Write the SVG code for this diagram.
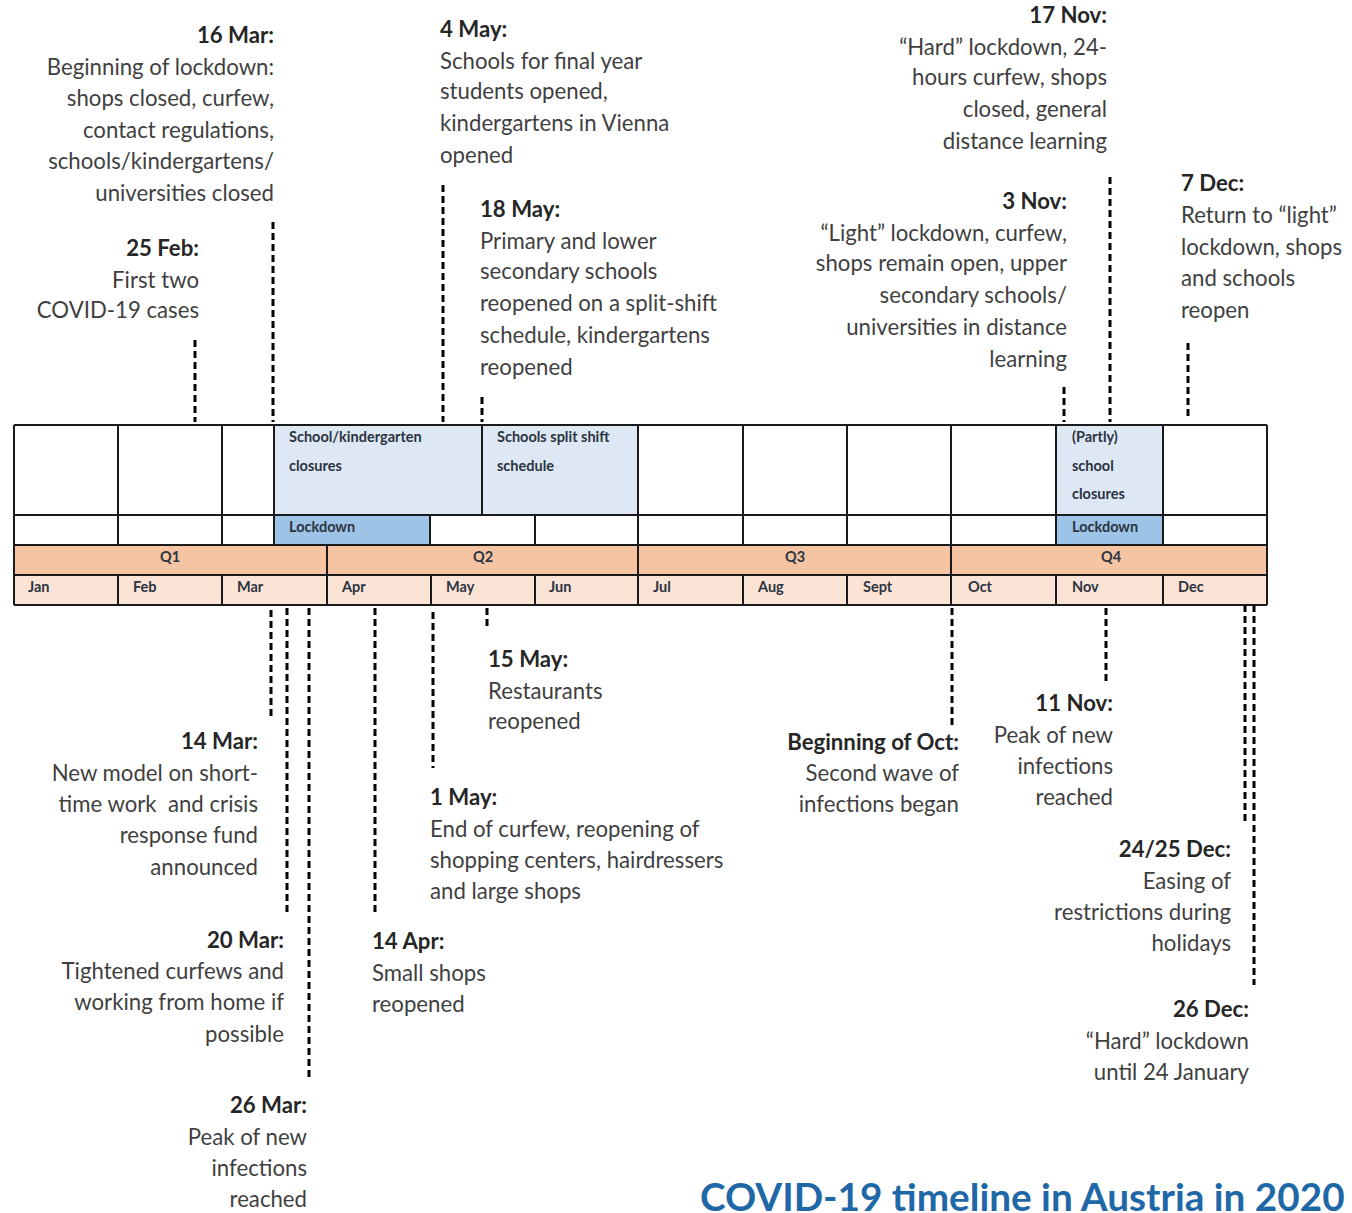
<svg xmlns="http://www.w3.org/2000/svg" width="1352" height="1213" viewBox="0 0 1352 1213">
<style>
.t{font-family:Lato,"Liberation Sans",sans-serif;font-size:22.2px;fill:#3f3f3f}
.h{font-family:Lato,"Liberation Sans",sans-serif;font-size:22.2px;font-weight:bold;fill:#262626}
.r{text-anchor:end}
.c{font-family:Lato,"Liberation Sans",sans-serif;font-size:14.5px;font-weight:bold;fill:#2b3440}
.m{text-anchor:middle}
.g{stroke:#1a1a1a;stroke-width:2;fill:none}
.d{stroke:#000;stroke-width:3;stroke-dasharray:7 4;fill:none}
.title{font-family:Lato,"Liberation Sans",sans-serif;font-size:38.7px;font-weight:bold;fill:#1f68a8}
</style>
<rect width="1352" height="1213" fill="#fff"/>
<g id="table">
<rect x="14" y="425" width="1253" height="180" fill="#fff"/>
<rect x="274" y="425" width="364" height="90" fill="#dde8f4"/>
<rect x="1056" y="425" width="107" height="90" fill="#dde8f4"/>
<rect x="274" y="515" width="156" height="30" fill="#9dc3e6"/>
<rect x="1056" y="515" width="107" height="30" fill="#9dc3e6"/>
<rect x="14" y="545" width="1253" height="30" fill="#f5c4a3"/>
<rect x="14" y="575" width="1253" height="30" fill="#fbe3d6"/>
<path class="g" d="M14 425H1267M14 515H1267M14 545H1267M14 575H1267M14 605H1267M14 425V605M1267 425V605
M118 425V545M222 425V545M274 425V545M482 425V515M638 425V545M743 425V545M847 425V545M951 425V545M1056 425V545M1163 425V545
M430 515V545M535 515V545
M327 545V605M638 545V605M951 545V605
M118 575V605M222 575V605M431 575V605M535 575V605M743 575V605M847 575V605M1056 575V605M1163 575V605"/>
<text class="c" x="289" y="442">School/kindergarten</text>
<text class="c" x="289" y="471">closures</text>
<text class="c" x="497" y="442">Schools split shift</text>
<text class="c" x="497" y="471">schedule</text>
<text class="c" x="1072" y="442">(Partly)</text>
<text class="c" x="1072" y="471">school</text>
<text class="c" x="1072" y="499">closures</text>
<text class="c" x="289" y="532">Lockdown</text>
<text class="c" x="1072" y="532">Lockdown</text>
<text class="c m" x="170" y="562">Q1</text>
<text class="c m" x="483" y="562">Q2</text>
<text class="c m" x="795" y="562">Q3</text>
<text class="c m" x="1111" y="562">Q4</text>
<text class="c" x="28" y="592">Jan</text>
<text class="c" x="133" y="592">Feb</text>
<text class="c" x="237" y="592">Mar</text>
<text class="c" x="342" y="592">Apr</text>
<text class="c" x="446" y="592">May</text>
<text class="c" x="549" y="592">Jun</text>
<text class="c" x="653" y="592">Jul</text>
<text class="c" x="758" y="592">Aug</text>
<text class="c" x="863" y="592">Sept</text>
<text class="c" x="968" y="592">Oct</text>
<text class="c" x="1072" y="592">Nov</text>
<text class="c" x="1178" y="592">Dec</text>
</g>
<g id="connectors">
<path class="d" d="M195 340V422M273 222V422M443 185V422M482 397V422M1064 387V422M1110 177V422M1188 343V420"/>
<path class="d" d="M271 610V716M287 608V912M309 608V1080M375 608V915M433 612V768M487 608V630M952 608V727M1106 608V683M1245 605V822M1254 605V985"/>
</g>
<g id="ev-25feb">
<text class="h r" x="199" y="256">25 Feb:</text>
<text class="t r" x="199" y="288">First two</text>
<text class="t r" x="199" y="318">COVID-19 cases</text>
</g>
<g id="ev-16mar">
<text class="h r" x="274" y="43">16 Mar:</text>
<text class="t r" x="274" y="75">Beginning of lockdown:</text>
<text class="t r" x="274" y="106">shops closed, curfew,</text>
<text class="t r" x="274" y="138">contact regulations,</text>
<text class="t r" x="274" y="169">schools/kindergartens/</text>
<text class="t r" x="274" y="201">universities closed</text>
</g>
<g id="ev-4may">
<text class="h" x="440" y="37">4 May:</text>
<text class="t" x="440" y="69">Schools for final year</text>
<text class="t" x="440" y="99">students opened,</text>
<text class="t" x="440" y="131">kindergartens in Vienna</text>
<text class="t" x="440" y="163">opened</text>
</g>
<g id="ev-18may">
<text class="h" x="480" y="217">18 May:</text>
<text class="t" x="480" y="249">Primary and lower</text>
<text class="t" x="480" y="279">secondary schools</text>
<text class="t" x="480" y="311">reopened on a split-shift</text>
<text class="t" x="480" y="343">schedule, kindergartens</text>
<text class="t" x="480" y="375">reopened</text>
</g>
<g id="ev-17nov">
<text class="h r" x="1107" y="23">17 Nov:</text>
<text class="t r" x="1107" y="55">“Hard” lockdown, 24-</text>
<text class="t r" x="1107" y="85">hours curfew, shops</text>
<text class="t r" x="1107" y="117">closed, general</text>
<text class="t r" x="1107" y="149">distance learning</text>
</g>
<g id="ev-3nov">
<text class="h r" x="1067" y="209">3 Nov:</text>
<text class="t r" x="1067" y="241">“Light” lockdown, curfew,</text>
<text class="t r" x="1067" y="271">shops remain open, upper</text>
<text class="t r" x="1067" y="303">secondary schools/</text>
<text class="t r" x="1067" y="335">universities in distance</text>
<text class="t r" x="1067" y="367">learning</text>
</g>
<g id="ev-7dec">
<text class="h" x="1181" y="191">7 Dec:</text>
<text class="t" x="1181" y="223">Return to “light”</text>
<text class="t" x="1181" y="255">lockdown, shops</text>
<text class="t" x="1181" y="286">and schools</text>
<text class="t" x="1181" y="318">reopen</text>
</g>
<g id="ev-15may">
<text class="h" x="488" y="667">15 May:</text>
<text class="t" x="488" y="699">Restaurants</text>
<text class="t" x="488" y="729">reopened</text>
</g>
<g id="ev-14mar">
<text class="h r" x="258" y="749">14 Mar:</text>
<text class="t r" x="258" y="781">New model on short-</text>
<text class="t r" x="258" y="812" xml:space="preserve">time work  and crisis</text>
<text class="t r" x="258" y="843">response fund</text>
<text class="t r" x="258" y="875">announced</text>
</g>
<g id="ev-1may">
<text class="h" x="430" y="805">1 May:</text>
<text class="t" x="430" y="837">End of curfew, reopening of</text>
<text class="t" x="430" y="868">shopping centers, hairdressers</text>
<text class="t" x="430" y="899">and large shops</text>
</g>
<g id="ev-oct">
<text class="h r" x="959" y="750">Beginning of Oct:</text>
<text class="t r" x="959" y="781">Second wave of</text>
<text class="t r" x="959" y="812">infections began</text>
</g>
<g id="ev-11nov">
<text class="h r" x="1113" y="711">11 Nov:</text>
<text class="t r" x="1113" y="743">Peak of new</text>
<text class="t r" x="1113" y="774">infections</text>
<text class="t r" x="1113" y="805">reached</text>
</g>
<g id="ev-2425dec">
<text class="h r" x="1231" y="857">24/25 Dec:</text>
<text class="t r" x="1231" y="889">Easing of</text>
<text class="t r" x="1231" y="920">restrictions during</text>
<text class="t r" x="1231" y="951">holidays</text>
</g>
<g id="ev-20mar">
<text class="h r" x="284" y="948">20 Mar:</text>
<text class="t r" x="284" y="979">Tightened curfews and</text>
<text class="t r" x="284" y="1010">working from home if</text>
<text class="t r" x="284" y="1042">possible</text>
</g>
<g id="ev-14apr">
<text class="h" x="372" y="949">14 Apr:</text>
<text class="t" x="372" y="981">Small shops</text>
<text class="t" x="372" y="1012">reopened</text>
</g>
<g id="ev-26dec">
<text class="h r" x="1249" y="1017">26 Dec:</text>
<text class="t r" x="1249" y="1049">“Hard” lockdown</text>
<text class="t r" x="1249" y="1080">until 24 January</text>
</g>
<g id="ev-26mar">
<text class="h r" x="307" y="1113">26 Mar:</text>
<text class="t r" x="307" y="1145">Peak of new</text>
<text class="t r" x="307" y="1176">infections</text>
<text class="t r" x="307" y="1207">reached</text>
</g>
<g id="title">
<text class="title" x="700" y="1211">COVID-19 timeline in Austria in 2020</text>
</g>
</svg>
